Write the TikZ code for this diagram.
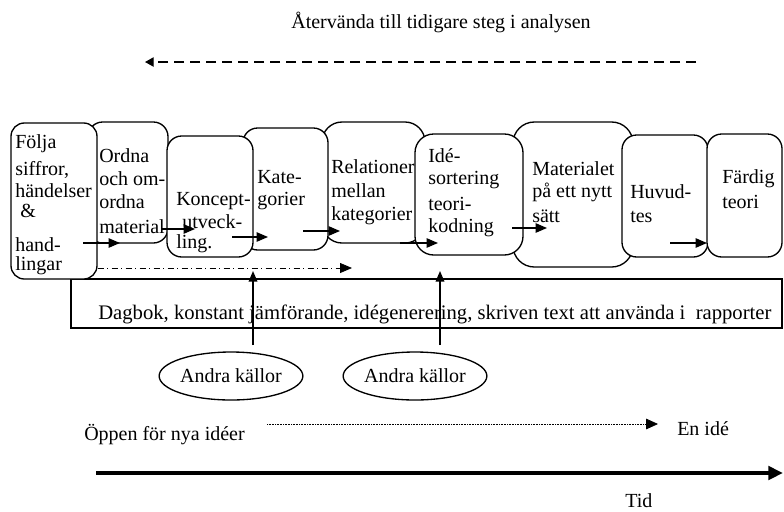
\documentclass[tikz,border=0pt]{standalone}
\usepackage{fontspec}
\setmainfont{Liberation Serif}
\usetikzlibrary{arrows.meta,fit,shapes.geometric}
\begin{document}
\begin{tikzpicture}[x=0.75pt,y=-0.75pt,
  stage/.style={draw, line width=1pt, fill=white, rounded corners=#1, inner sep=0pt},
  stage/.default=10pt,
  lbl/.style={anchor=base west, inner sep=0pt, font=\fontsize{15}{18}\selectfont},
  ctr/.style={anchor=base, inner sep=0pt, font=\fontsize{15}{18}\selectfont},
  arr/.style={line width=1.1pt, -{Triangle[length=8.5pt,width=7pt]}},
  uparr/.style={line width=1.1pt, -{Triangle[length=8pt,width=6.5pt]}},
  dashdot/.style={line width=0.6pt, dash pattern=on 4.5pt off 2.5pt on 1pt off 2.5pt, -{Triangle[length=9pt,width=7.5pt]}},
  backarr/.style={line width=1pt, dash pattern=on 7.5pt off 4.5pt, -{Triangle[length=6.5pt,width=7pt]}},
  dotarr/.style={line width=0.6pt, dash pattern=on 0.6pt off 0.6pt, -{Triangle[length=9pt,width=8pt]}},
  timearr/.style={line width=3.2pt, -{Triangle[length=11pt,width=10pt]}},
  source/.style={draw, ellipse, line width=1pt, minimum width=76.5pt, minimum height=36pt, inner sep=0pt, font=\fontsize{15}{18}\selectfont}
]
\useasboundingbox (0,0) rectangle (784,511);

% journal band
\node[draw, line width=1pt, inner sep=0pt, fit={(71,279)(782,328)}] (band) {};
\node[lbl, font=\fontsize{15.5}{18}\selectfont] (bandtxt) at (98,319) {Dagbok, konstant jämförande, idégenerering, skriven text att använda i\ \ rapporter};

% stage boxes (back layer first)
\node[stage=11pt, fit={(88,122)(168,243)}] (b2) {};
\node[stage=15pt, fit={(322,122)(425,243)}] (b5) {};
\node[stage=16pt, fit={(513,122)(633,267)}] (b7) {};
\node[stage=11pt, fit={(243,128)(328,250)}] (b4) {};
\node[stage=10pt, fit={(11,123)(97,279)}] (b1) {};
\node[stage=11pt, fit={(167,136)(253,257)}] (b3) {};
\node[stage=14pt, fit={(415,134)(523,255)}] (b6) {};
\node[stage=11pt, fit={(622,135)(708,257)}] (b8) {};
\node[stage=11pt, fit={(707,134)(782,257)}] (b9) {};

% box texts
\foreach \y/\t [count=\k] in {148/Följa, 175/{siffror,}, 197/händelser, 251/hand-, 270/lingar}
  \node[lbl] (t1\k) at (15,\y) {\t};
\node[lbl] (t1amp) at (20,217) {\&};
\foreach \y/\t [count=\k] in {162/Ordna, 185/och om-, 208/ordna, 233/material}
  \node[lbl] (t2\k) at (99,\y) {\t};
\node[lbl] (t31) at (176,205) {Koncept-};
\node[lbl] (t32) at (182,228) {utveck-};
\node[lbl] (t33) at (176,248) {ling.};
\foreach \y/\t [count=\k] in {183/Kate-, 205/gorier}
  \node[lbl] (t4\k) at (257,\y) {\t};
\foreach \y/\t [count=\k] in {173/Relationer, 197/mellan, 220/kategorier}
  \node[lbl] (t5\k) at (331,\y) {\t};
\foreach \y/\t [count=\k] in {162/Idé-, 184/sortering, 210/teori-, 232/kodning}
  \node[lbl] (t6\k) at (428,\y) {\t};
\foreach \y/\t [count=\k] in {175/Materialet, 197/på ett nytt, 222/sätt}
  \node[lbl] (t7\k) at (532,\y) {\t};
\foreach \y/\t [count=\k] in {198/Huvud-, 222/tes}
  \node[lbl] (t8\k) at (630,\y) {\t};
\foreach \y/\t [count=\k] in {183/Färdig, 208/teori}
  \node[lbl] (t9\k) at (722,\y) {\t};

% arrows inside the chain
\coordinate (a1s) at (83,243);  \coordinate (a1e) at (120,243);
\coordinate (a2s) at (161,229); \coordinate (a2e) at (195,229);
\coordinate (a3s) at (232,237); \coordinate (a3e) at (268,237);
\coordinate (a4s) at (303,231); \coordinate (a4e) at (340,231);
\coordinate (a5s) at (400,243); \coordinate (a5e) at (438,243);
\coordinate (a6s) at (512,228); \coordinate (a6e) at (547,228);
\coordinate (a7s) at (670,243); \coordinate (a7e) at (707,243);
\foreach \i in {1,...,7} \draw[arr] (a\i s) -- (a\i e);

% dash-dot arrow
\coordinate (ddend) at (352,268);
\draw[dashdot] (b1.east |- ddend) -- (ddend);

% other sources
\node[source] (src1) at (231,376) {Andra källor};
\node[source] (src2) at (415,376) {Andra källor};
\coordinate (s1) at (253,345); \coordinate (u1) at (253,271);
\coordinate (s2) at (440,345); \coordinate (u2) at (440,271);
\draw[uparr] (s1) -- (u1);
\draw[uparr] (s2) -- (u2);

% top: return to earlier steps
\node[ctr] (back) at (441,28) {Återvända till tidigare steg i analysen};
\coordinate (bk1) at (696,62); \coordinate (bk2) at (145,62);
\draw[backarr] (bk1) -- (bk2);

% open for new ideas
\node[lbl] (open) at (84,440) {Öppen för nya idéer};
\node[lbl] (idea) at (677,435) {En idé};
\coordinate (o1) at (267,424); \coordinate (o2) at (658,424);
\draw[dotarr] (o1) -- (o2);

% time axis
\coordinate (ti1) at (96,473); \coordinate (ti2) at (783,473);
\draw[timearr] (ti1) -- (ti2);
\node[lbl] (tid) at (625,507) {Tid};
\end{tikzpicture}
\end{document}
